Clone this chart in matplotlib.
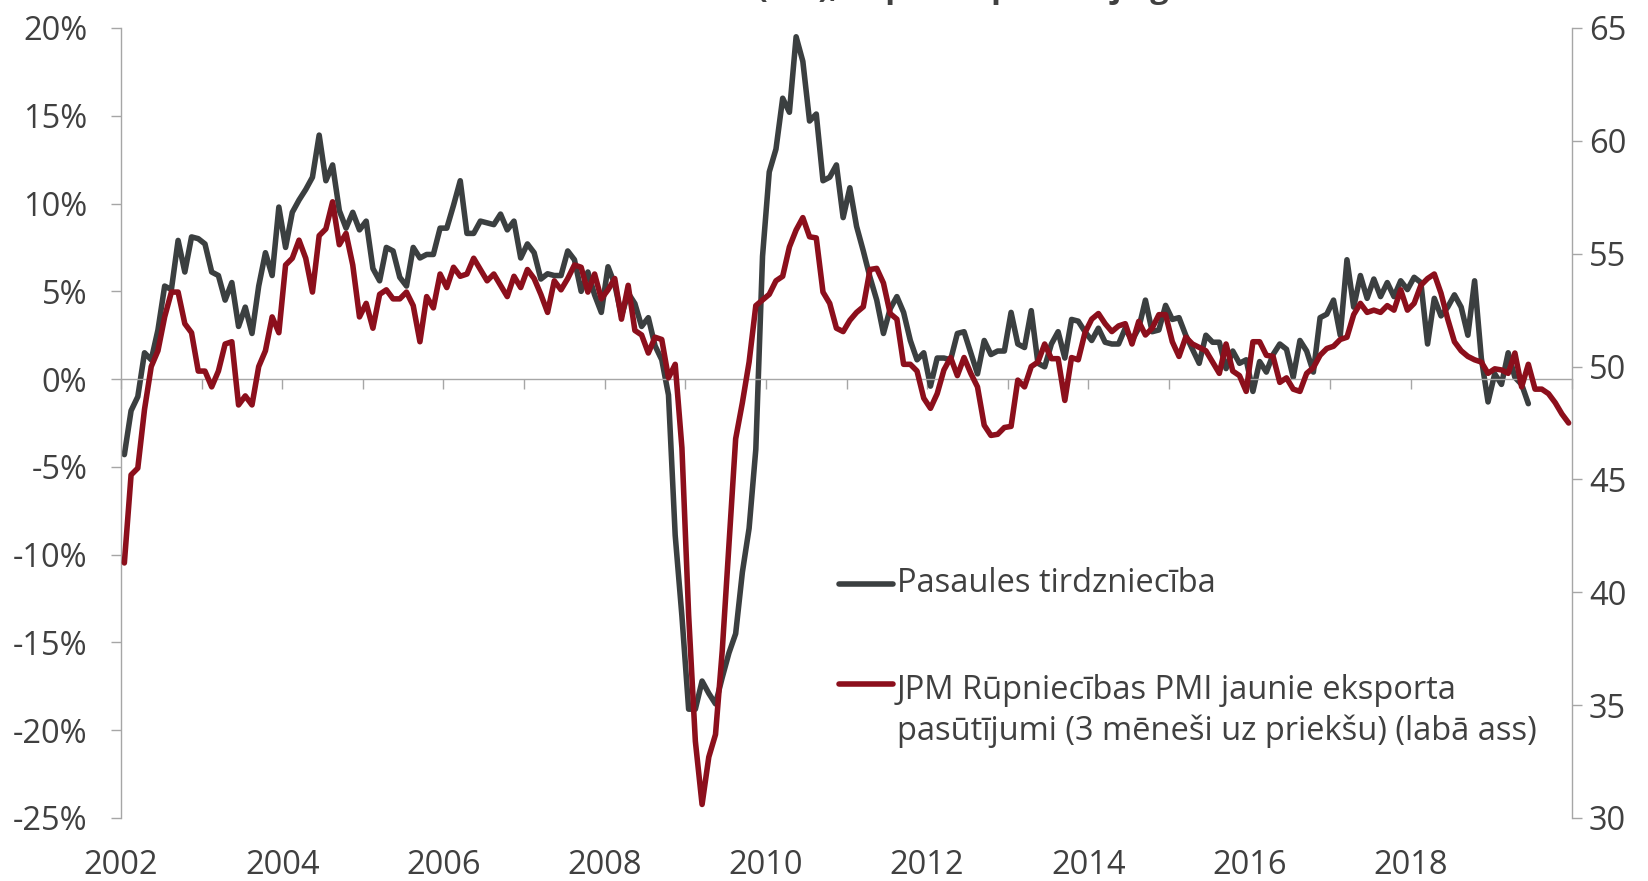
import matplotlib
matplotlib.use("Agg")
import matplotlib.pyplot as plt
from matplotlib.lines import Line2D
from matplotlib.ticker import FuncFormatter
import numpy as np

plt.rcParams["font.family"] = ["Open Sans", "DejaVu Sans"]

# monthly data, first month Jan 2002
START_YEAR = 2002

# Pasaules tirdzniecība, % pret iepriekšējo gadu (left axis)
trade = [
    -4.3, -1.8, -1.0, 1.5, 1.1, 2.8, 5.3, 5.1, 7.9, 6.1, 8.1, 8.0,
    7.7, 6.1, 5.9, 4.5, 5.5, 3.0, 4.1, 2.6, 5.3, 7.2, 5.9, 9.8,
    7.5, 9.5, 10.2, 10.8, 11.5, 13.9, 11.3, 12.2, 9.6, 8.6, 9.5, 8.5,
    9.0, 6.3, 5.6, 7.5, 7.3, 5.8, 5.3, 7.5, 6.9, 7.1, 7.1, 8.6,
    8.6, 9.9, 11.3, 8.3, 8.3, 9.0, 8.9, 8.8, 9.4, 8.5, 9.0, 6.9,
    7.7, 7.2, 5.7, 6.0, 5.9, 5.9, 7.3, 6.8, 5.0, 6.1, 4.8, 3.8,
    6.4, 5.4, 3.6, 4.9, 4.3, 3.0, 3.5, 1.9, 1.1, -0.9, -8.9, -13.5,
    -18.8, -18.8, -17.2, -17.9, -18.5, -17.0, -15.6, -14.5, -11.0, -8.5, -4.0, 7.0,
    11.8, 13.1, 16.0, 15.2, 19.5, 18.1, 14.7, 15.1, 11.3, 11.5, 12.2, 9.2,
    10.9, 8.7, 7.3, 5.8, 4.5, 2.6, 4.0, 4.7, 3.8, 2.2, 1.1, 1.5,
    -0.4, 1.2, 1.2, 1.1, 2.6, 2.7, 1.5, 0.3, 2.2, 1.4, 1.6, 1.6,
    3.8, 2.0, 1.8, 3.9, 0.9, 0.7, 2.0, 2.7, 1.2, 3.4, 3.3, 2.7,
    2.2, 2.9, 2.1, 2.0, 2.0, 2.9, 2.2, 2.9, 4.5, 2.7, 2.8, 4.2,
    3.4, 3.5, 2.5, 1.7, 0.9, 2.5, 2.1, 2.1, 0.6, 1.6, 0.9, 1.1,
    -0.7, 1.0, 0.4, 1.4, 2.0, 1.7, 0.1, 2.2, 1.6, 0.4, 3.5, 3.7,
    4.5, 2.5, 6.8, 4.1, 5.9, 4.6, 5.7, 4.7, 5.5, 4.7, 5.6, 5.1,
    5.8, 5.5, 2.0, 4.6, 3.6, 4.1, 4.8, 4.1, 2.5, 5.6, 1.2, -1.3,
    0.3, -0.3, 1.5, 0.1, -0.3, -1.4,
]

# JPM Rūpniecības PMI jaunie eksporta pasūtījumi, 3 mēneši uz priekšu (right axis)
pmi_export = [
    41.3, 45.2, 45.5, 48.1, 50.0, 50.7, 52.2, 53.3, 53.3, 51.9, 51.5, 49.8,
    49.8, 49.1, 49.8, 51.0, 51.1, 48.3, 48.7, 48.3, 50.0, 50.7, 52.2, 51.5,
    54.5, 54.8, 55.6, 54.8, 53.3, 55.8, 56.1, 57.3, 55.4, 55.9, 54.5, 52.2,
    52.8, 51.7, 53.2, 53.4, 53.0, 53.0, 53.3, 52.7, 51.1, 53.1, 52.6, 54.1,
    53.5, 54.4, 54.0, 54.1, 54.8, 54.3, 53.8, 54.1, 53.6, 53.1, 54.0, 53.5,
    54.3, 53.9, 53.2, 52.4, 53.8, 53.4, 53.9, 54.5, 54.4, 53.3, 54.1, 53.0,
    53.4, 53.9, 52.1, 53.6, 51.6, 51.4, 50.6, 51.3, 51.2, 49.5, 50.1, 46.4,
    39.0, 33.4, 30.6, 32.7, 33.7, 37.4, 42.1, 46.8, 48.4, 50.2, 52.7, 52.95,
    53.2, 53.8, 54.0, 55.3, 56.05, 56.6, 55.75, 55.7, 53.3, 52.8, 51.7, 51.55,
    52.05, 52.4, 52.65, 54.3, 54.35, 53.7, 52.35, 52.1, 50.1, 50.1, 49.8, 48.6,
    48.15, 48.8, 49.85, 50.4, 49.6, 50.4, 49.7, 49.1, 47.4, 46.95, 47.0, 47.3,
    47.35, 49.4, 49.1, 50.0, 50.2, 51.0, 50.35, 50.35, 48.5, 50.4, 50.3, 51.5,
    52.1, 52.35, 51.9, 51.55, 51.8, 51.9, 51.0, 52.0, 51.4, 51.7, 52.3, 52.3,
    51.1, 50.45, 51.3, 51.0, 50.85, 50.7, 50.2, 49.7, 51.0, 49.8, 49.6, 48.9,
    51.1, 51.1, 50.5, 50.45, 49.3, 49.5, 49.0, 48.9, 49.7, 49.95, 50.5, 50.8,
    50.9, 51.2, 51.3, 52.3, 52.8, 52.4, 52.5, 52.4, 52.7, 52.5, 53.4, 52.5,
    52.8, 53.6, 53.9, 54.1, 53.25, 52.1, 51.1, 50.7, 50.45, 50.3, 50.2, 49.7,
    49.9, 49.85, 49.7, 50.6, 49.1, 50.1, 49.0, 49.0, 48.8, 48.4, 47.9, 47.5,
]

year_ticks = list(range(2002, 2021))
year_labels = list(range(2002, 2019, 2))
left_ticks = list(range(-25, 21, 5))
right_ticks = list(range(30, 66, 5))

title = "Pasaules tirdzniecība (3m), % pret iepriekšējo gadu"
label_trade = "Pasaules tirdzniecība"
label_pmi = "JPM Rūpniecības PMI jaunie eksporta\npasūtījumi (3 mēneši uz priekšu) (labā ass)"

DARK = "#3b3f40"
RED = "#8c0f1c"
GRID = "#a6a6a6"
TXT = "#404040"
FS = 23.5
LW = 4.0

# months are centred between year ticks
x_trade = START_YEAR + (np.arange(len(trade)) + 0.5) / 12
x_pmi = START_YEAR + (np.arange(len(pmi_export)) + 0.5) / 12

fig = plt.figure(figsize=(16.48, 8.81), dpi=100)
ax = fig.add_axes([121 / 1648, 1 - 818 / 881, (1572 - 121) / 1648, (818 - 28) / 881])
ax2 = ax.twinx()

ax.plot(x_trade, trade, color=DARK, lw=LW, solid_joinstyle="round", solid_capstyle="round")
ax2.plot(x_pmi, pmi_export, color=RED, lw=LW, solid_joinstyle="round", solid_capstyle="round")

ax.set_xlim(2002, 2020)
ax.set_ylim(-25, 20)
ax2.set_ylim(30, 65)

# left axis
ax.set_yticks(left_ticks)
ax.yaxis.set_major_formatter(FuncFormatter(lambda v, _: f"{int(v)}%"))
ax.tick_params(axis="y", direction="out", length=7.2, width=1, color=GRID,
               labelsize=FS, labelcolor=TXT, pad=17)
ax.spines["left"].set_color(GRID)
ax.spines["left"].set_linewidth(1)
ax.spines["top"].set_visible(False)
ax.spines["right"].set_visible(False)

# horizontal axis line at 0 with yearly ticks
ax.spines["bottom"].set_position(("data", 0))
ax.spines["bottom"].set_color(GRID)
ax.spines["bottom"].set_linewidth(1)
ax.set_xticks(year_ticks)
ax.tick_params(axis="x", direction="out", length=7.2, width=1, color=GRID, labelbottom=False)

# year labels below plot area
sec = ax.secondary_xaxis(0)
sec.set_xticks(year_labels)
sec.set_xticklabels([str(y) for y in year_labels])
sec.tick_params(axis="x", length=0, labelsize=FS, labelcolor=TXT, pad=22.5)
sec.spines["bottom"].set_visible(False)

# right axis
ax2.set_yticks(right_ticks)
ax2.tick_params(axis="y", direction="out", length=7.2, width=1, color=GRID,
                labelsize=FS, labelcolor=TXT, pad=5)
for s in ["left", "top", "bottom"]:
    ax2.spines[s].set_visible(False)
ax2.spines["right"].set_color(GRID)
ax2.spines["right"].set_linewidth(1)

# legend drawn by hand so the red key sits on the first text line
W, H = 1648, 881
for y_px, col in [(584, DARK), (684, RED)]:
    fig.add_artist(Line2D([839 / W, 893 / W], [1 - y_px / H, 1 - y_px / H],
                          transform=fig.transFigure, color=col, lw=LW,
                          solid_capstyle="round"))
fig.text(897 / W, 1 - 584 / H, label_trade, fontsize=FS, color=TXT, va="center")
fig.text(897 / W, 1 - 740 / H, label_pmi, fontsize=FS, color=TXT, va="baseline",
         linespacing=1.3)

# title is cut off by the top edge in the source image
fig.text(817 / W, 1 + 3 / H, title, fontsize=FS, fontweight="bold", color=TXT,
         ha="center", va="baseline")

fig.savefig("out.png", dpi=100)
